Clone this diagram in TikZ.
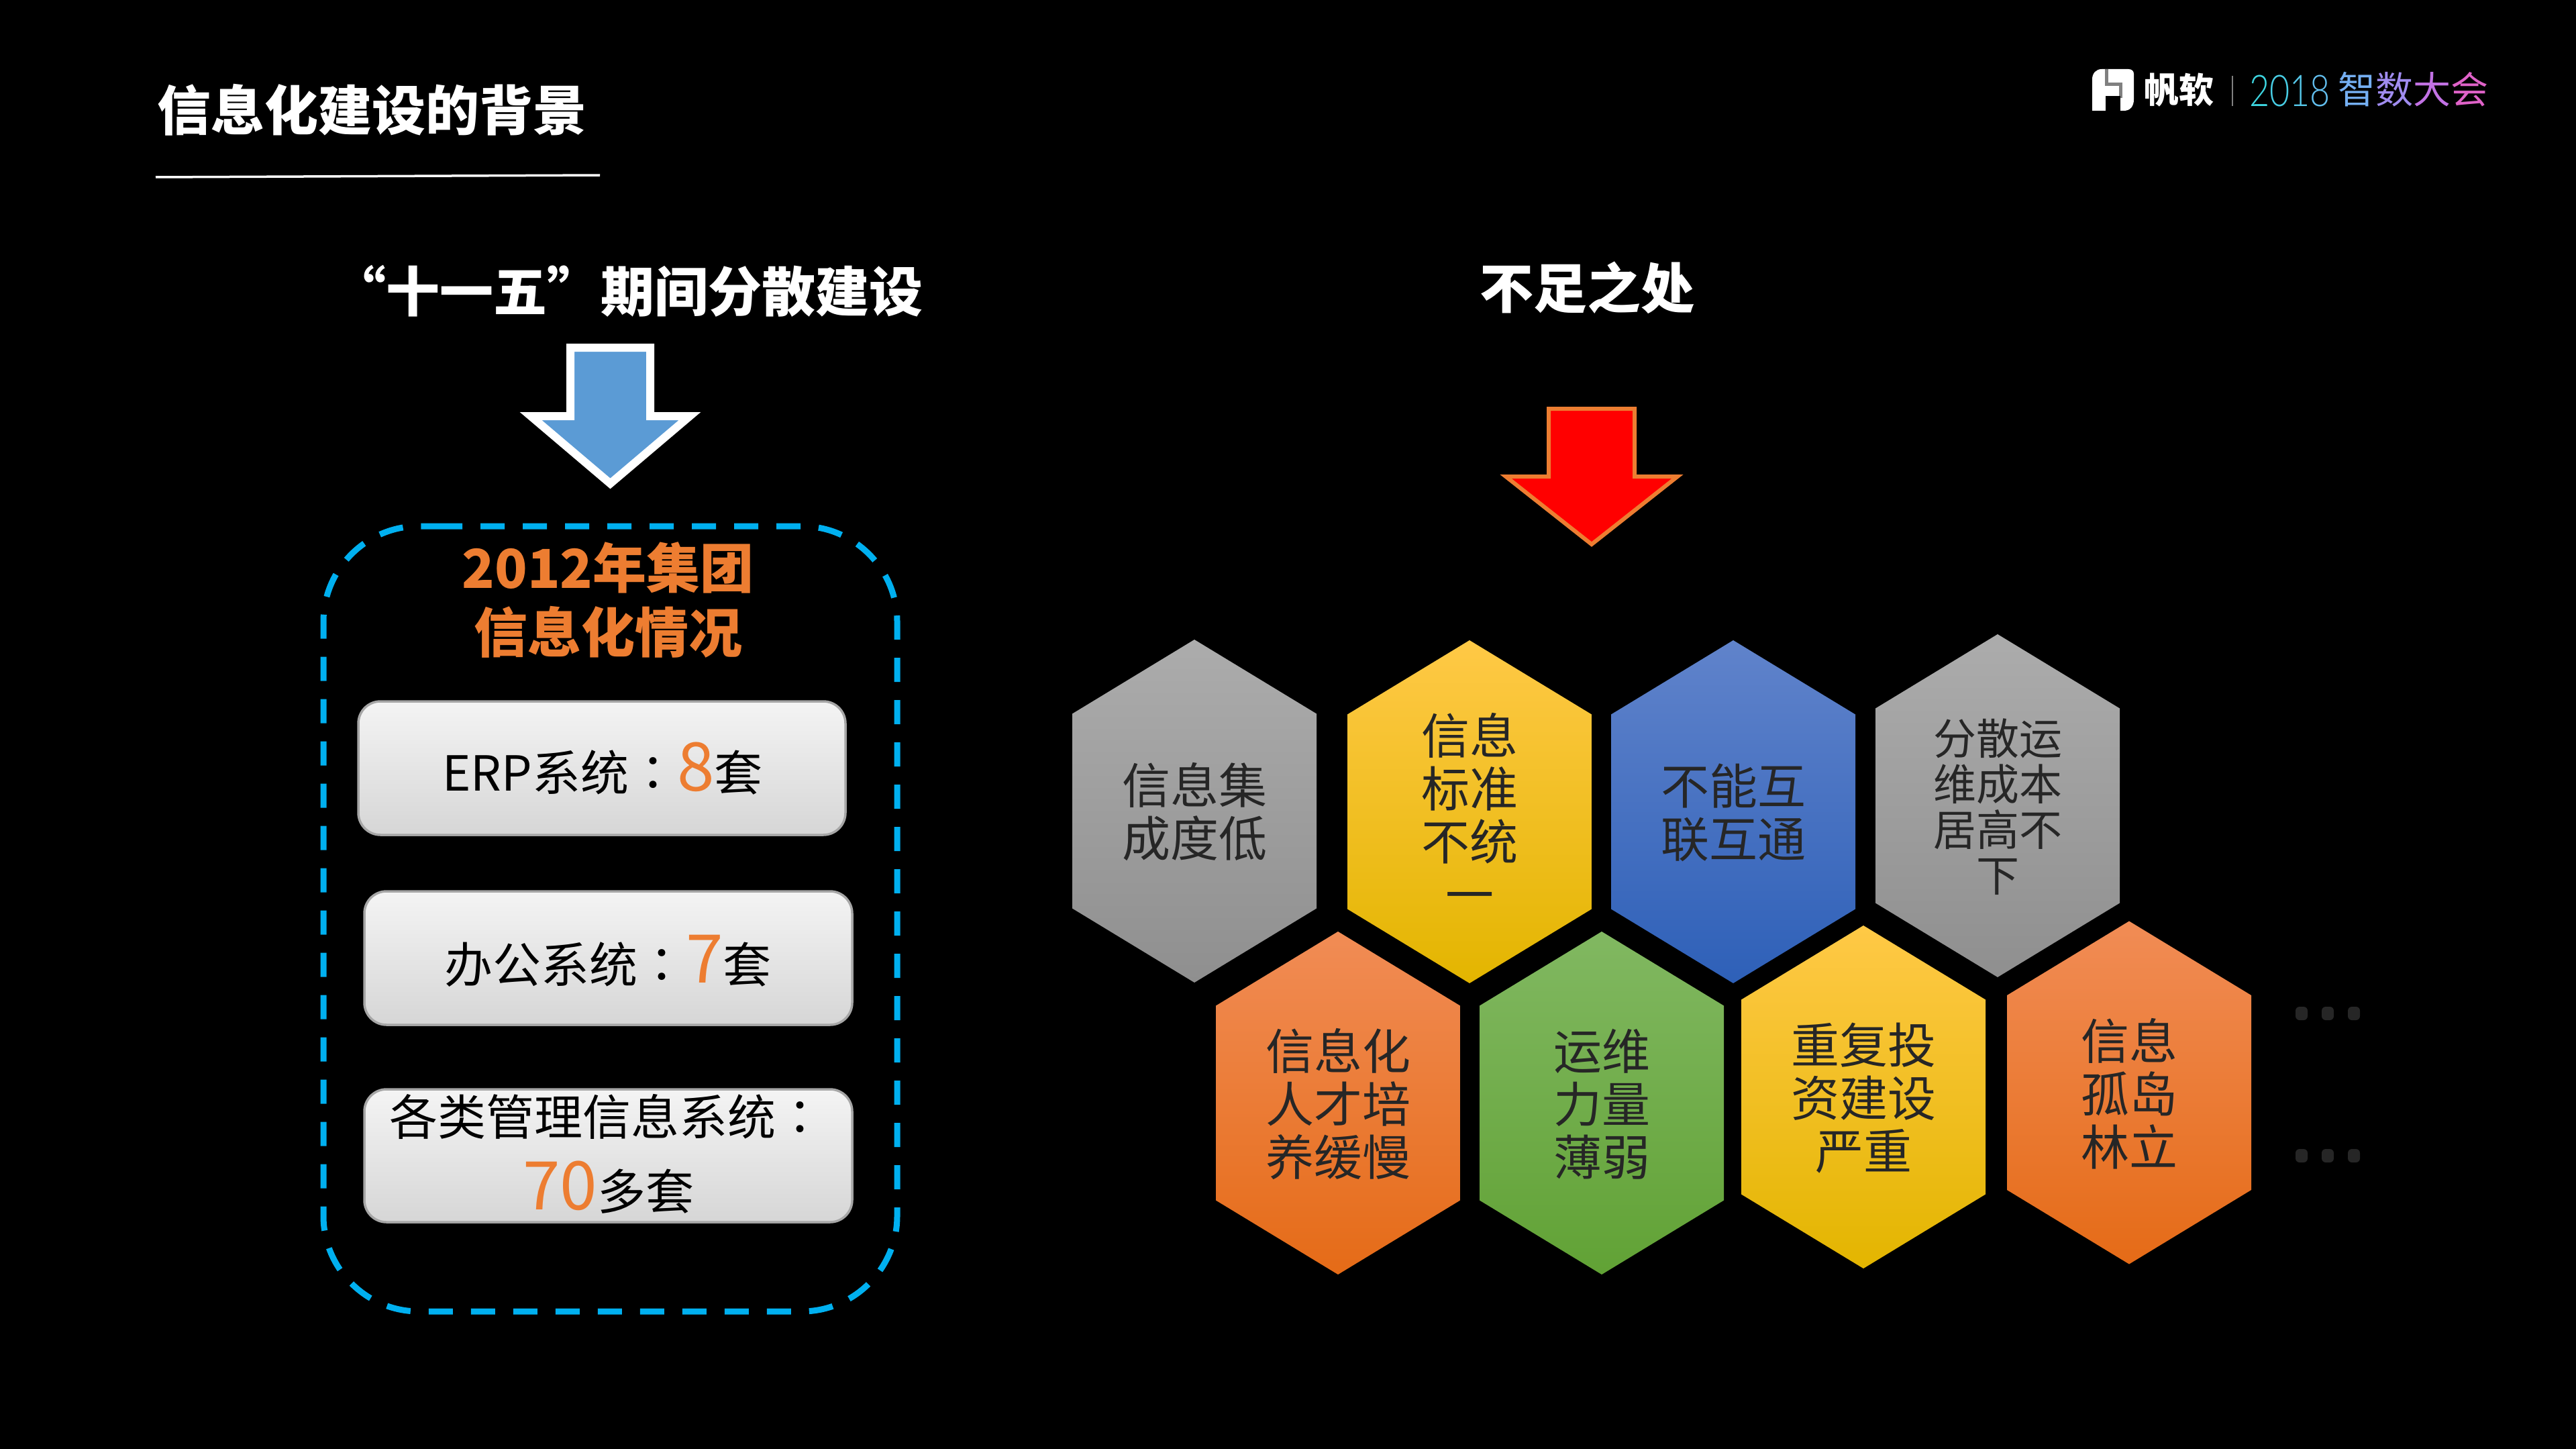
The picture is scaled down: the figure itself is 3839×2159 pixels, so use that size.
\documentclass[tikz,border=0pt]{standalone}
\usepackage{fontspec}
\setmainfont{Noto Sans CJK SC}
\newfontfamily\tcfont{Noto Sans CJK TC}
\newfontfamily\logodig[FakeStretch=0.8]{Lato Light}
\definecolor{accent}{HTML}{ED7D31}
\definecolor{hextext}{HTML}{262626}
\definecolor{dashblue}{HTML}{00B0F0}
\definecolor{arrowblue}{HTML}{5B9BD5}
\definecolor{gA}{HTML}{ACACAC}\definecolor{gB}{HTML}{A5A5A5}\definecolor{gC}{HTML}{8F8F8F}
\definecolor{yA}{HTML}{FFC946}\definecolor{yB}{HTML}{FFC400}\definecolor{yC}{HTML}{E3B500}
\definecolor{bA}{HTML}{6083CB}\definecolor{bB}{HTML}{4472C4}\definecolor{bC}{HTML}{2E60B8}
\definecolor{oA}{HTML}{F18C55}\definecolor{oB}{HTML}{F67B28}\definecolor{oC}{HTML}{E56B17}
\definecolor{vA}{HTML}{81B861}\definecolor{vB}{HTML}{70AD47}\definecolor{vC}{HTML}{61A235}
\definecolor{boxline}{HTML}{A6A6A6}\definecolor{boxtop}{HTML}{F4F4F4}\definecolor{boxbot}{HTML}{D6D6D6}
\tikzset{
  px/.style={x=1pt,y=-1pt},
  hexgray/.style={top color=gA,middle color=gB,bottom color=gC},
  hexyellow/.style={top color=yA,middle color=yB,bottom color=yC},
  hexblue/.style={top color=bA,middle color=bB,bottom color=bC},
  hexorange/.style={top color=oA,middle color=oB,bottom color=oC},
  hexgreen/.style={top color=vA,middle color=vB,bottom color=vC},
  hexlabel/.style={text=hextext,align=center,inner sep=0pt,font=\fontsize{72}{79}\selectfont},
  smalllabel/.style={text=hextext,align=center,inner sep=0pt,font=\fontsize{64}{68}\selectfont},
  boxshape/.style={draw=boxline,line width=3.5pt,rounded corners=33pt,top color=boxtop,bottom color=boxbot},
  boxlabel/.style={anchor=base,inner sep=0pt,text=black,font=\fontsize{72}{80}\selectfont},
  headlabel/.style={anchor=base,inner sep=0pt,text=white,font=\fontsize{80}{96}\selectfont\bfseries},
  dotmark/.style={fill=hextext,rounded corners=6pt},
}
% \hexcell{name}{centre x}{top y}{fill style}{label style}{text}
\newcommand{\hexcell}[6]{%
  \path[#4] (#2,#3) -- (#2+182,#3+110.5) -- (#2+182,#3+400.5) -- (#2,#3+511)
     -- (#2-182,#3+400.5) -- (#2-182,#3+110.5) -- cycle;
  \node[#5] (#1) at (#2,#3+257) {#6};%
}
\newcommand{\dotrow}[2]{%
  \foreach \dx in {0,39,78}{\path[dotmark] (#1+\dx-9,#2-10) rectangle (#1+\dx+9,#2+10);}%
}
\newcommand{\ccolon}{{\tcfont ：}}
\newcommand{\bignum}[1]{{\fontsize{100}{100}\selectfont\textcolor{accent}{#1}}}
\begin{document}
\begin{tikzpicture}[px]
\useasboundingbox (0,0) rectangle (3839,2159);
\fill[black] (0,0) rectangle (3839,2159);

% title
\node[headlabel] (title) at (554,195) {信息化建设的背景};
\coordinate (ruleA) at (232,264);
\coordinate (ruleB) at (894,261);
\draw[white,line width=3.5pt] (ruleA) -- (ruleB);

% logo
\path[fill=white] (3132,103) -- (3172,103) .. controls (3177,103) and (3180,106) .. (3180,110)
   -- (3180,148) .. controls (3180,158) and (3175,165) .. (3165,165) -- (3118,165) -- (3118,118)
   .. controls (3118,109) and (3124,103) .. (3132,103) -- cycle;
\fill[gray] (3137,103) rectangle (3142,128);
\fill[gray] (3137,123) rectangle (3163,128);
\fill[gray] (3158,123) rectangle (3163,146);
\fill[black] (3138,143) rectangle (3160,165);
\node[anchor=base west,inner sep=0pt,text=white,font=\fontsize{52}{52}\selectfont\bfseries] (brand) at (3195,154) {帆软};
\coordinate (sepA) at (3327,113);
\coordinate (sepB) at (3327,158);
\draw[gray,line width=2pt] (sepA) -- (sepB);
\node[anchor=base west,inner sep=0pt,font=\fontsize{65}{65}\logodig\selectfont] (year) at (3352,159)
  {\textcolor[HTML]{3DD5E0}{2}\textcolor[HTML]{48CDE4}{0}\textcolor[HTML]{55C6E8}{1}\textcolor[HTML]{62BEEE}{8}};
\node[anchor=base west,inner sep=0pt,font=\fontsize{56}{56}\selectfont] (conf) at (3484,155)
  {\textcolor[HTML]{75AFF2}{智}\textcolor[HTML]{A08CF0}{数}\textcolor[HTML]{C272E4}{大}\textcolor[HTML]{DF62C8}{会}};

% left heading and arrow
\node[headlabel] (lefthead) at (935,464) {“十一五”期间分散建设};
\draw[white,line width=12pt,fill=arrowblue,miter limit=10]
  (850,518) -- (969,518) -- (969,620) -- (1028,620) -- (909.5,720.5) -- (791,620) -- (850,620) -- cycle;

% dashed frame
\draw[dashblue,line width=9pt,dash pattern=on 36pt off 27pt]
  (653,784) -- (1195,784) .. controls (1273,784) and (1337,848) .. (1337,926)
  -- (1337,1812) .. controls (1337,1890) and (1273,1954) .. (1195,1954)
  -- (624,1954) .. controls (546,1954) and (482,1890) .. (482,1812)
  -- (482,926) .. controls (482,848) and (546,784) .. (624,784) -- cycle;

\node[anchor=center,inner sep=0pt,align=center,text=accent,font=\fontsize{80}{96}\selectfont\bfseries] (frameTitle) at (906,894) {2012年集团\\信息化情况};

% boxes
\path[boxshape] (534,1045) rectangle (1260,1244);
\path[boxshape] (543,1328) rectangle (1270,1527);
\path[boxshape] (543,1623) rectangle (1270,1821);
\node[boxlabel] (erp) at (898,1178) {ERP系统\ccolon\bignum{8}套};
\node[boxlabel] (office) at (906,1464) {办公系统\ccolon\bignum{7}套};
\node[boxlabel] (misA) at (904,1691) {各类管理信息系统\ccolon};
\node[boxlabel] (misB) at (906.5,1802) {\bignum{70}多套};

% right heading and arrow
\node[headlabel] (righthead) at (2365,459) {不足之处};
\draw[accent,line width=6pt,fill=red,miter limit=10]
  (2308,609) -- (2436,609) -- (2436,710) -- (2500,710) -- (2372,811) -- (2244,710) -- (2308,710) -- cycle;

% hexagons
\hexcell{h1}{1780}{953}{hexgray}{hexlabel}{信息集\\成度低}
\hexcell{h2}{2190}{954}{hexyellow}{hexlabel}{信息\\标准\\不统\\一}
\hexcell{h3}{2583}{954}{hexblue}{hexlabel}{不能互\\联互通}
\hexcell{h4}{2977}{945}{hexgray}{smalllabel}{分散运\\维成本\\居高不\\下}
\hexcell{h5}{1994}{1388}{hexorange}{hexlabel}{信息化\\人才培\\养缓慢}
\hexcell{h6}{2387}{1388}{hexgreen}{hexlabel}{运维\\力量\\薄弱}
\hexcell{h7}{2777}{1379}{hexyellow}{hexlabel}{重复投\\资建设\\严重}
\hexcell{h8}{3173}{1372.5}{hexorange}{hexlabel}{信息\\孤岛\\林立}

\dotrow{3430}{1510}
\dotrow{3430}{1722}
\end{tikzpicture}
\end{document}
